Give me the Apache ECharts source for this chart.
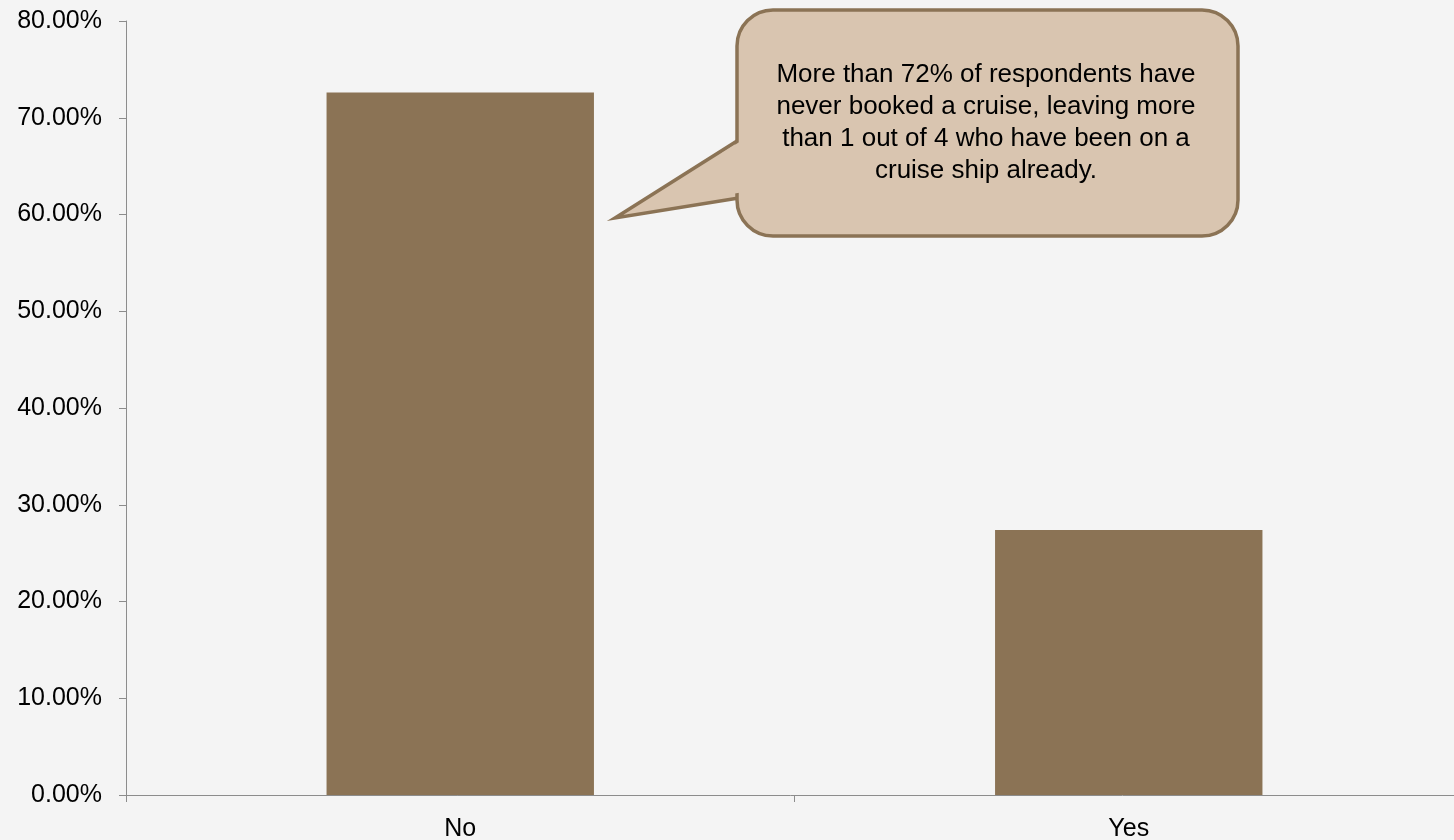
<!DOCTYPE html>
<html>
<head>
<meta charset="utf-8">
<script src="https://cdn.jsdelivr.net/npm/echarts@6/dist/echarts.min.js"></script>
<style>
    html, body { margin: 0; padding: 0; background: #f4f4f4; }
    #main { width: 1454px; height: 840px; }
</style>
</head>
<body>
<div id="main"></div>
<script>
    var categories = ['No', 'Yes'];
    var shares = [72.6, 27.4];
    var yTicks = [0, 10, 20, 30, 40, 50, 60, 70, 80];
    var noteLines = [
        'More than 72% of respondents have',
        'never booked a cruise, leaving more',
        'than 1 out of 4 who have been on a',
        'cruise ship already.'
    ];

    (function () {
        var chart = echarts.init(document.getElementById('main'));
        var font = 'Liberation Sans, Arial, sans-serif';
        var boxFill = '#d9c5b0', boxLine = '#8b7355';

        var option = {
            backgroundColor: '#f4f4f4',
            animation: false,
            // plot runs a little past the right edge, like the original
            grid: { left: 126, width: 1337, top: 21, bottom: 45, outerBoundsMode: 'none' },
            xAxis: {
                type: 'category',
                data: categories,
                axisLine: { lineStyle: { color: '#8c8c8c', width: 1 } },
                axisTick: { show: true, length: 7, lineStyle: { color: '#8c8c8c' } },
                axisLabel: { color: '#000', fontSize: 25, fontFamily: font, margin: 22 }
            },
            yAxis: {
                type: 'value',
                min: yTicks[0],
                max: yTicks[yTicks.length - 1],
                interval: 10,
                splitLine: { show: false },
                axisLine: { show: true, lineStyle: { color: '#8c8c8c', width: 1 } },
                axisTick: { show: true, length: 7, lineStyle: { color: '#8c8c8c' } },
                axisLabel: {
                    color: '#000', fontSize: 25, fontFamily: font, margin: 24,
                    formatter: function (v) { return v.toFixed(2) + '%'; }
                }
            },
            series: [{
                type: 'bar',
                data: shares,
                barWidth: '40%',
                itemStyle: { color: '#8b7355' }
            }],
            graphic: [
                // pointer
                {
                    type: 'polygon',
                    shape: { points: [[615, 218], [745, 136], [745, 197]] },
                    style: { fill: boxFill, stroke: boxLine, lineWidth: 3.5 },
                    z: 100
                },
                // box
                {
                    type: 'rect',
                    shape: { x: 737, y: 10, width: 501, height: 226, r: 36 },
                    style: { fill: boxFill, stroke: boxLine, lineWidth: 3.5 },
                    z: 101
                },
                // hide the box border where the pointer joins
                {
                    type: 'polygon',
                    shape: { points: [[722, 153], [741, 141], [741, 192.5], [722, 195.5]] },
                    style: { fill: boxFill },
                    z: 102
                },
                {
                    type: 'text',
                    x: 986,
                    y: 123,
                    style: {
                        text: noteLines.join('\n'),
                        fill: '#000',
                        font: '26px ' + font,
                        lineHeight: 32,
                        align: 'center',
                        verticalAlign: 'middle'
                    },
                    z: 103
                }
            ]
        };
        chart.setOption(option);
    })();
</script>
</body>
</html>
